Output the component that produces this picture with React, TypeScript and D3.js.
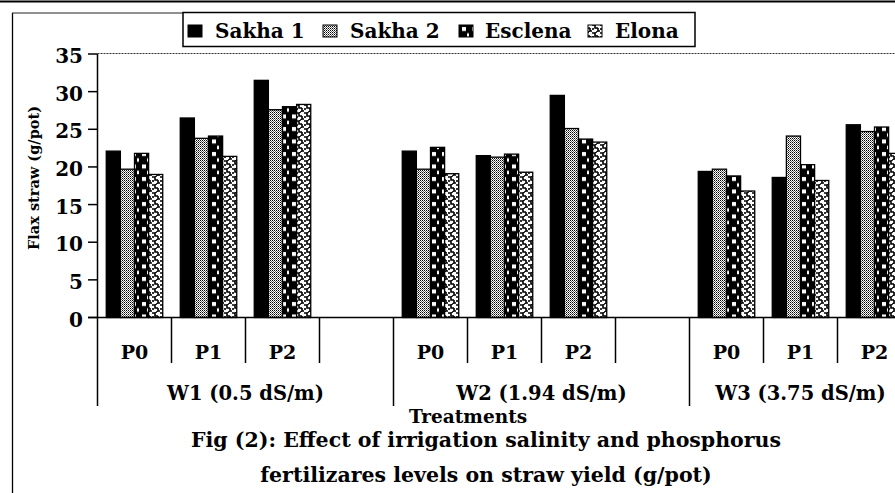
import React from "react";
import * as d3 from "d3";

// ---- data ----
const seriesNames = ["Sakha 1", "Sakha 2", "Esclena", "Elona"];
const salinityLevels = ["W1 (0.5 dS/m)", "W2 (1.94 dS/m)", "W3 (3.75 dS/m)"];
const phosphorusLevels = ["P0", "P1", "P2"];
// order: W1 P0,P1,P2 | W2 P0,P1,P2 | W3 P0,P1,P2
const sakha1 = [22.1, 26.5, 31.5, 22.1, 21.5, 29.5, 19.4, 18.6, 25.6];
const sakha2 = [19.7, 23.8, 27.6, 19.7, 21.3, 25.1, 19.7, 24.1, 24.7];
const esclena = [21.8, 24.1, 28.0, 22.6, 21.7, 23.7, 18.8, 20.3, 25.3];
const elona = [19.0, 21.4, 28.3, 19.1, 19.3, 23.3, 16.8, 18.2, 21.8];
const yTicks = [0, 5, 10, 15, 20, 25, 30, 35];
const yTitle = "Flax straw (g/pot)";
const xTitle = "Treatments";
const titleLines = [
  "Fig (2): Effect of irrigation salinity and phosphorus",
  "fertilizares levels on straw yield (g/pot)",
];

const W = 895;
const H = 493;
const FONT = "'DejaVu Serif', 'Liberation Serif', serif";

const seriesValues = [sakha1, sakha2, esclena, elona];
const fills = ["#000", "url(#pS2)", "url(#pEs)", "url(#pEl)"];

// slot list: each salinity has P0,P1,P2 and a gap slot except the last one
const slots: { key: string; w: number; p: string | null }[] = [];
salinityLevels.forEach((s, wi) => {
  phosphorusLevels.forEach((p) => slots.push({ key: `${wi}-${p}`, w: wi, p }));
  if (wi < salinityLevels.length - 1) slots.push({ key: `${wi}-gap`, w: wi, p: null });
});

export default function App() {
  const plotLeft = 97.5;
  const step = 74;
  const x = d3
    .scaleBand<string>()
    .domain(slots.map((s) => s.key))
    .range([plotLeft, plotLeft + step * slots.length])
    .padding(0);
  const inner = d3
    .scaleBand<string>()
    .domain(seriesNames)
    .range([0, step])
    .paddingInner(0)
    .paddingOuter(0.62);
  const y = d3.scaleLinear().domain([0, 35]).range([317.5, 54]);
  const y0 = y(0);
  const plotRight = plotLeft + step * slots.length;

  const bars: JSX.Element[] = [];
  salinityLevels.forEach((_, wi) => {
    phosphorusLevels.forEach((p, pi) => {
      const idx = wi * phosphorusLevels.length + pi;
      const sx = x(`${wi}-${p}`)!;
      seriesNames.forEach((sn, si) => {
        const v = seriesValues[si][idx];
        bars.push(
          <rect
            key={`${wi}-${p}-${si}`}
            x={sx + inner(sn)!}
            y={y(v)}
            width={inner.bandwidth()}
            height={y0 - y(v)}
            fill={fills[si]}
            stroke="#000"
            strokeWidth={1.3}
          />
        );
      });
    });
  });

  const boundaries: JSX.Element[] = [];
  slots.forEach((s, i) => {
    const bx = x(s.key)!;
    const isGroupStart = i === 0 || slots[i - 1].w !== s.w;
    if (i > 0)
      boundaries.push(
        <line key={`b${i}`} x1={bx} x2={bx} y1={y0} y2={isGroupStart ? 406 : 363} stroke="#000" strokeWidth={1.5} />
      );
  });

  const groupLabels = salinityLevels.map((lab, wi) => {
    const ks = slots.filter((s) => s.w === wi);
    const a = x(ks[0].key)!;
    const b = x(ks[ks.length - 1].key)! + step;
    return (
      <text key={lab} x={(a + b) / 2} y={400} textAnchor="middle" fontFamily={FONT} fontWeight="bold" fontSize={19.5}>
        {lab}
      </text>
    );
  });

  const legendX = [188, 323, 459, 588];
  const legendTextX = [215, 350, 485, 615];

  return (
    <svg width={W} height={H} style={{ position: "absolute", left: 0, top: 0, display: "block", background: "#fff" }}>
      <defs>
        <pattern id="pS2" width={2} height={2} patternUnits="userSpaceOnUse">
          <rect width={2} height={2} fill="#fff" />
          <rect x={0} y={0} width={1} height={1} fill="#000" />
          <rect x={1} y={1} width={1} height={1} fill="#666" />
        </pattern>
        <pattern id="pEs" width={10} height={12.5} patternUnits="userSpaceOnUse">
          <rect width={10} height={12.5} fill="#000" />
          <rect x={2} y={2} width={4} height={4} fill="#fff" />
          <rect x={7} y={8.25} width={2} height={3.5} fill="#fff" />
        </pattern>
        <pattern id="pEl" width={8} height={8} patternUnits="userSpaceOnUse">
          <rect width={8} height={8} fill="#fff" />
          <path d="M0,1 L3,1 L3,4 L6,4 M4,0 L4,1 M6,4 L6,7 L8,7 M1,4 L1,6 M5,7 L5,8" stroke="#000" strokeWidth={1.6} fill="none" />
        </pattern>
      </defs>

      {/* page frame */}
      <line x1={0} x2={W} y1={1.5} y2={1.5} stroke="#000" strokeWidth={2} />
      <line x1={12.5} x2={12.5} y1={13} y2={H} stroke="#000" strokeWidth={1.3} />
      <line x1={12} x2={184} y1={13} y2={13} stroke="#222" strokeWidth={1} />

      {/* plot top dotted border */}
      <line x1={plotLeft} x2={W} y1={53.5} y2={53.5} stroke="#333" strokeWidth={1} strokeDasharray="2,1" />

      {bars}

      {/* axes */}
      <line x1={plotLeft} x2={plotLeft} y1={54} y2={406} stroke="#000" strokeWidth={1.5} />
      <line x1={88} x2={Math.max(plotRight, W)} y1={y0} y2={y0} stroke="#000" strokeWidth={1.5} />
      {yTicks.map((t) => (
        <g key={t}>
          <line x1={88} x2={plotLeft} y1={y(t)} y2={y(t)} stroke="#000" strokeWidth={1.5} />
          <text x={83} y={y(t) + 9} textAnchor="end" fontFamily={FONT} fontWeight="bold" fontSize={20}>
            {t}
          </text>
        </g>
      ))}
      {boundaries}

      {slots
        .filter((s) => s.p)
        .map((s) => (
          <text key={s.key} x={x(s.key)! + step / 2} y={359} textAnchor="middle" fontFamily={FONT} fontWeight="bold" fontSize={19}>
            {s.p}
          </text>
        ))}
      {groupLabels}

      <text x={468} y={423} textAnchor="middle" fontFamily={FONT} fontWeight="bold" fontSize={18.5}>
        {xTitle}
      </text>
      <text
        transform={`translate(39,178) rotate(-90)`}
        textAnchor="middle"
        fontFamily={FONT}
        fontWeight="bold"
        fontSize={14.5}
      >
        {yTitle}
      </text>

      {titleLines.map((t, i) => (
        <text key={i} x={486} y={447 + i * 35} textAnchor="middle" fontFamily={FONT} fontWeight="bold" fontSize={20.5}>
          {t}
        </text>
      ))}

      {/* legend */}
      <rect x={183} y={12.5} width={512} height={34} fill="#fff" stroke="#000" strokeWidth={1.5} />
      {seriesNames.map((sn, i) => (
        <g key={sn}>
          <rect x={legendX[i]} y={25} width={14} height={12} fill={fills[i]} stroke="#000" strokeWidth={1} />
          <text x={legendTextX[i]} y={38} fontFamily={FONT} fontWeight="bold" fontSize={20}>
            {sn}
          </text>
        </g>
      ))}
    </svg>
  );
}
